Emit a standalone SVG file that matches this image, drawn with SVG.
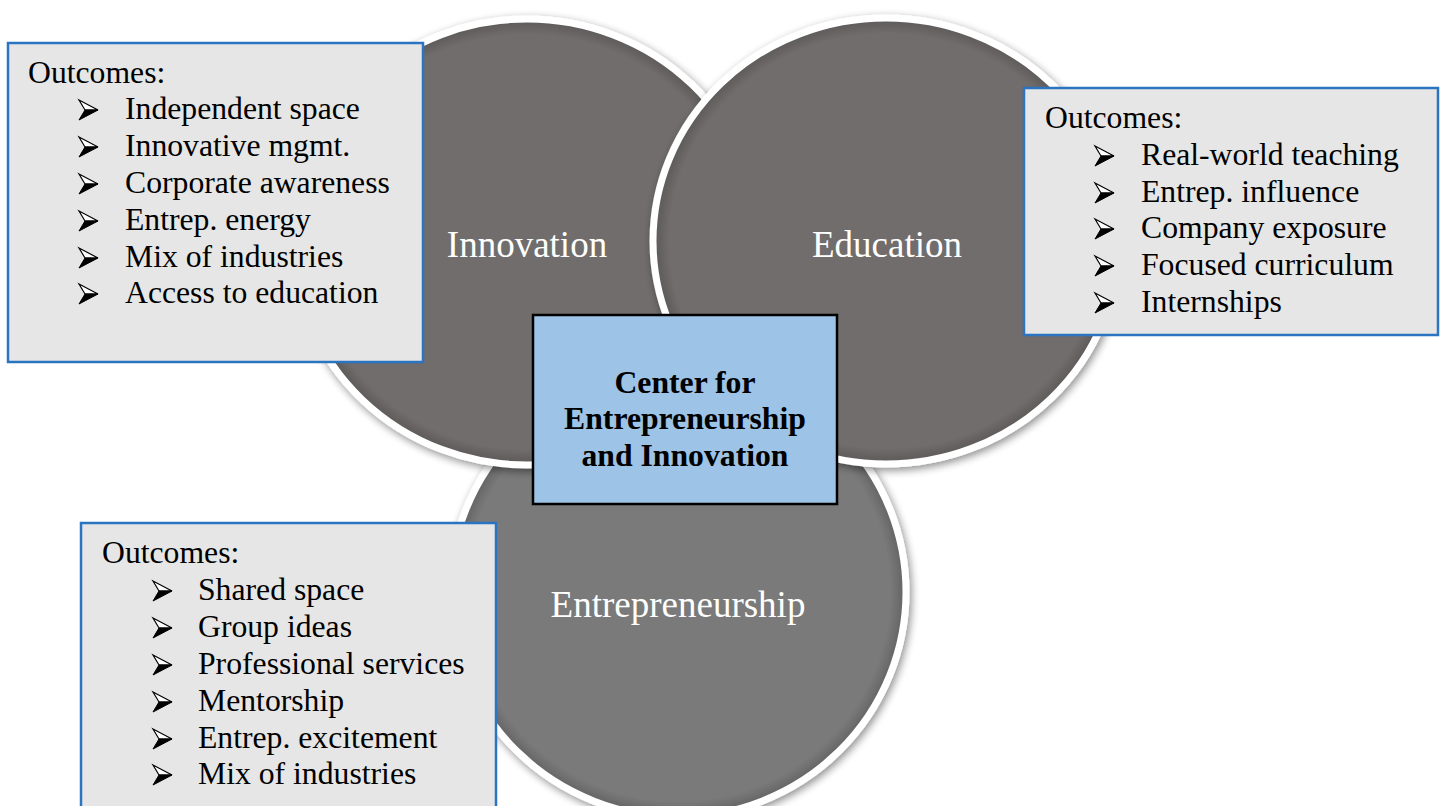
<svg xmlns="http://www.w3.org/2000/svg" xmlns:xlink="http://www.w3.org/1999/xlink" width="1442" height="806" viewBox="0 0 1442 806">
<style>
.txt{font-family:"Liberation Serif","Times New Roman",serif;font-size:31.7px;fill:#000}
.lbl{font-family:"Liberation Serif","Times New Roman",serif;font-size:37px;fill:#fff;text-anchor:middle}
.ctr{font-family:"Liberation Serif","Times New Roman",serif;font-size:31.7px;font-weight:bold;fill:#000;text-anchor:middle}
.obox{fill:#e6e6e6;stroke:#2a74c2;stroke-width:2.5}
.cbox{fill:#9dc3e6;stroke:#000;stroke-width:2.5}
.ring{stroke:#fff;stroke-width:7}
</style>
<defs>
<radialGradient id="gA" cx="0.5" cy="0.5" r="0.5">
<stop offset="0" stop-color="#716d6c"/>
<stop offset="0.93" stop-color="#716d6c"/>
<stop offset="1" stop-color="#5a5756"/>
</radialGradient>
<radialGradient id="gB" cx="0.5" cy="0.5" r="0.5">
<stop offset="0" stop-color="#7a7a7a"/>
<stop offset="0.93" stop-color="#7a7a7a"/>
<stop offset="1" stop-color="#626262"/>
</radialGradient>
<filter id="sh" x="-10%" y="-10%" width="120%" height="120%">
<feGaussianBlur in="SourceAlpha" stdDeviation="4"/>
<feOffset dx="2" dy="3" result="b"/>
<feComponentTransfer><feFuncA type="linear" slope="0.45"/></feComponentTransfer>
<feMerge><feMergeNode/><feMergeNode in="SourceGraphic"/></feMerge>
</filter>
<g id="bul">
<path d="M0,-10 L19,0 L6,0 Z" fill="#fff" stroke="#000" stroke-width="1.2" stroke-linejoin="miter"/>
<path d="M6,0 L19,0 L0,10 Z" fill="#000" stroke="#000" stroke-width="1"/>
</g>
</defs>
<rect width="1442" height="806" fill="#fff"/>
<g id="connectors"/>
<g id="entrepreneurship">
<ellipse cx="678" cy="592" rx="228" ry="225" class="ring" fill="url(#gB)" filter="url(#sh)"/>
<text x="678" y="617" class="lbl">Entrepreneurship</text>
</g>
<g id="innovation">
<ellipse cx="527" cy="242" rx="233" ry="223" class="ring" fill="url(#gA)" filter="url(#sh)"/>
<text x="527" y="257" class="lbl">Innovation</text>
</g>
<g id="education">
<ellipse cx="886" cy="241" rx="233" ry="223" class="ring" fill="url(#gA)" filter="url(#sh)"/>
<text x="887" y="257" class="lbl">Education</text>
</g>
<g id="center">
<rect x="533" y="315" width="304" height="189" class="cbox"/>
<text x="685" y="393" class="ctr">Center for</text>
<text x="685" y="429" class="ctr">Entrepreneurship</text>
<text x="685" y="466" class="ctr">and Innovation</text>
</g>
<g id="innovation-outcomes">
<rect x="8" y="43" width="415" height="319" class="obox"/>
<text x="28" y="83" class="txt">Outcomes:</text>
<use xlink:href="#bul" x="79" y="110"/>
<use xlink:href="#bul" x="79" y="147"/>
<use xlink:href="#bul" x="79" y="184"/>
<use xlink:href="#bul" x="79" y="221"/>
<use xlink:href="#bul" x="79" y="258"/>
<use xlink:href="#bul" x="79" y="294"/>
<text x="125" y="119" class="txt">Independent space</text>
<text x="125" y="156" class="txt">Innovative mgmt.</text>
<text x="125" y="193" class="txt">Corporate awareness</text>
<text x="125" y="230" class="txt">Entrep. energy</text>
<text x="125" y="267" class="txt">Mix of industries</text>
<text x="125" y="303" class="txt">Access to education</text>
</g>
<g id="education-outcomes">
<rect x="1024" y="88" width="414" height="247" class="obox"/>
<text x="1045" y="128" class="txt">Outcomes:</text>
<use xlink:href="#bul" x="1095" y="156"/>
<use xlink:href="#bul" x="1095" y="193"/>
<use xlink:href="#bul" x="1095" y="229"/>
<use xlink:href="#bul" x="1095" y="266"/>
<use xlink:href="#bul" x="1095" y="303"/>
<text x="1141" y="165" class="txt">Real-world teaching</text>
<text x="1141" y="202" class="txt">Entrep. influence</text>
<text x="1141" y="238" class="txt">Company exposure</text>
<text x="1141" y="275" class="txt">Focused curriculum</text>
<text x="1141" y="312" class="txt">Internships</text>
</g>
<g id="entrepreneurship-outcomes">
<rect x="81" y="523" width="415" height="320" class="obox"/>
<text x="102" y="563" class="txt">Outcomes:</text>
<use xlink:href="#bul" x="153" y="591"/>
<use xlink:href="#bul" x="153" y="628"/>
<use xlink:href="#bul" x="153" y="665"/>
<use xlink:href="#bul" x="153" y="702"/>
<use xlink:href="#bul" x="153" y="739"/>
<use xlink:href="#bul" x="153" y="775"/>
<text x="198" y="600" class="txt">Shared space</text>
<text x="198" y="637" class="txt">Group ideas</text>
<text x="198" y="674" class="txt">Professional services</text>
<text x="198" y="711" class="txt">Mentorship</text>
<text x="198" y="748" class="txt">Entrep. excitement</text>
<text x="198" y="784" class="txt">Mix of industries</text>
</g>
</svg>
